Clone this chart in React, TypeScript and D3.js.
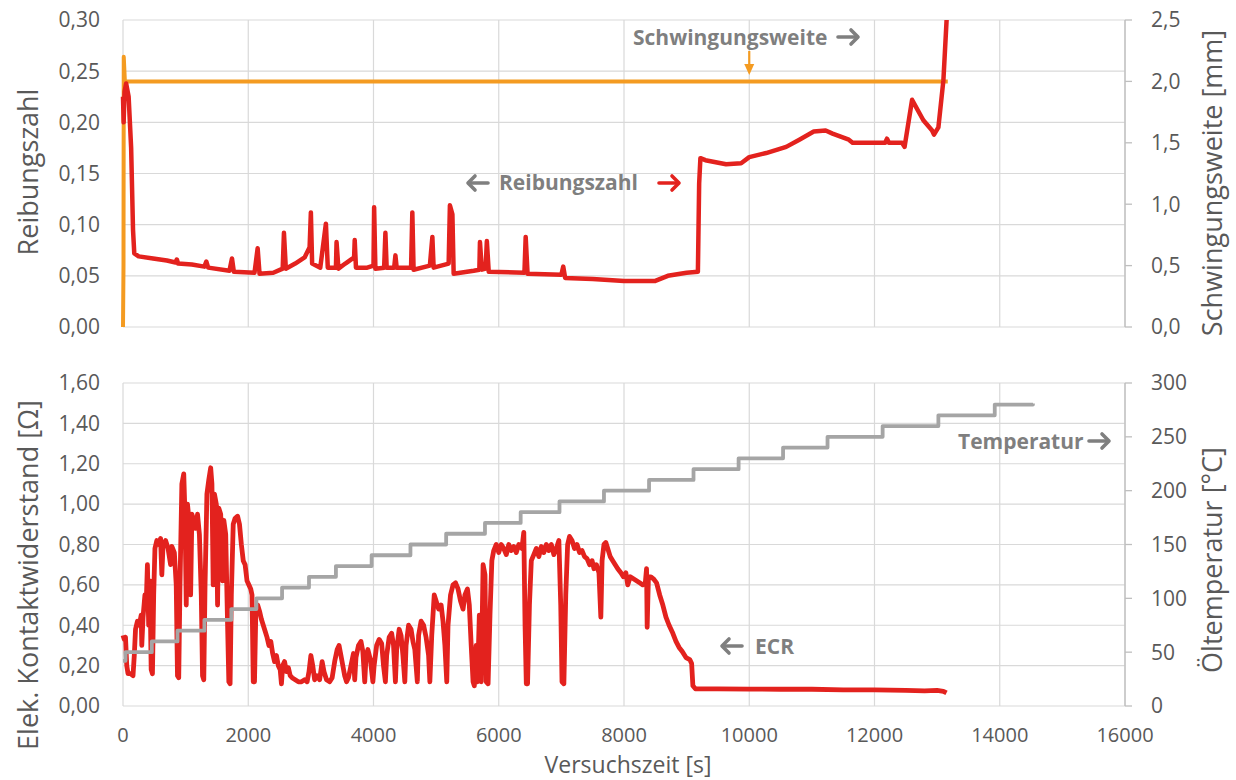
import React from "react";
import * as d3 from "d3";

// Reibungszahl (oben, linke Achse) – [Zeit s, µ]
const frictionData: [number, number][] = [
  [0, 0.225], [10, 0.2], [25, 0.23], [50, 0.238], [90, 0.225], [130, 0.175], [160, 0.095],
  [180, 0.072], [250, 0.069], [480, 0.067], [700, 0.065], [840, 0.063], [860, 0.066],
  [880, 0.062], [1100, 0.061], [1300, 0.059], [1330, 0.064], [1360, 0.058], [1700, 0.055],
  [1740, 0.067], [1770, 0.054], [2100, 0.053], [2150, 0.077], [2180, 0.052], [2400, 0.053],
  [2550, 0.057], [2570, 0.092], [2600, 0.057], [2750, 0.062], [2900, 0.068], [2980, 0.078],
  [3000, 0.112], [3020, 0.062], [3150, 0.058], [3240, 0.101], [3270, 0.058], [3400, 0.058],
  [3410, 0.083], [3440, 0.057], [3550, 0.062], [3690, 0.068], [3700, 0.085], [3720, 0.058],
  [3900, 0.058], [4000, 0.06], [4010, 0.117], [4030, 0.057], [4170, 0.058], [4190, 0.092],
  [4210, 0.058], [4330, 0.058], [4350, 0.07], [4370, 0.058], [4600, 0.058], [4620, 0.112],
  [4640, 0.056], [4900, 0.06], [4940, 0.088], [4960, 0.058], [5200, 0.062], [5220, 0.119],
  [5260, 0.11], [5280, 0.052], [5600, 0.055], [5690, 0.056], [5700, 0.083], [5730, 0.056],
  [5790, 0.057], [5810, 0.084], [5840, 0.054], [6410, 0.053], [6430, 0.088], [6460, 0.052],
  [7000, 0.051], [7030, 0.059], [7060, 0.048], [7500, 0.047], [8000, 0.045], [8500, 0.045],
  [8700, 0.05], [9000, 0.053], [9180, 0.054], [9200, 0.14], [9220, 0.165], [9300, 0.163],
  [9630, 0.159], [9870, 0.16], [10000, 0.166], [10270, 0.17], [10590, 0.176], [10800, 0.183],
  [11030, 0.191], [11220, 0.192], [11330, 0.189], [11590, 0.183], [11650, 0.18], [12170, 0.18],
  [12200, 0.184], [12230, 0.18], [12440, 0.18], [12480, 0.176], [12600, 0.222], [12780, 0.202],
  [12920, 0.192], [12950, 0.188], [13020, 0.195], [13100, 0.241], [13160, 0.31],
];

// Schwingungsweite (oben, rechte Achse) – [Zeit s, mm]
const amplitudeData: [number, number][] = [
  [0, 0], [8, 0.5], [12, 2.2], [30, 2.0], [13170, 2.0],
];

// Elektrischer Kontaktwiderstand (unten, linke Achse) – [Zeit s, Ohm]
const ecrData: [number, number][] = [
  [0, 0.35], [20, 0.33], [40, 0.34], [60, 0.2], [80, 0.16], [120, 0.16], [160, 0.15],
  [180, 0.25], [200, 0.38], [230, 0.42], [260, 0.4], [290, 0.45], [300, 0.3], [320, 0.44],
  [350, 0.55], [370, 0.5], [390, 0.7], [410, 0.4], [430, 0.62], [450, 0.18], [470, 0.16],
  [490, 0.55], [510, 0.78], [540, 0.82], [570, 0.8], [600, 0.83], [620, 0.65], [640, 0.8],
  [680, 0.82], [720, 0.78], [760, 0.7], [780, 0.79], [820, 0.76], [850, 0.6], [870, 0.15],
  [890, 0.14], [910, 0.6], [940, 1.1], [970, 1.15], [990, 0.95], [1010, 0.5], [1030, 1.0],
  [1060, 0.9], [1080, 0.55], [1100, 0.95], [1130, 0.92], [1160, 0.88], [1190, 0.95],
  [1220, 0.85], [1250, 0.55], [1270, 0.15], [1290, 0.13], [1310, 0.6], [1340, 1.05],
  [1370, 1.12], [1400, 1.18], [1420, 1.1], [1440, 0.6], [1460, 1.05], [1490, 1.0], [1510, 0.5],
  [1530, 0.98], [1560, 0.95], [1590, 0.62], [1610, 0.92], [1640, 0.85], [1670, 0.4],
  [1690, 0.12], [1710, 0.11], [1730, 0.55], [1760, 0.9], [1790, 0.93], [1830, 0.94],
  [1860, 0.9], [1890, 0.8], [1920, 0.72], [1950, 0.7], [1980, 0.62], [2010, 0.6], [2040, 0.58],
  [2060, 0.55], [2080, 0.12], [2100, 0.12], [2120, 0.45], [2150, 0.5], [2180, 0.47],
  [2210, 0.43], [2240, 0.4], [2270, 0.37], [2300, 0.34], [2330, 0.3], [2360, 0.32],
  [2390, 0.26], [2420, 0.22], [2450, 0.25], [2480, 0.2], [2510, 0.18], [2530, 0.11],
  [2550, 0.2], [2580, 0.22], [2610, 0.17], [2640, 0.19], [2670, 0.15], [2700, 0.14],
  [2750, 0.13], [2800, 0.12], [2850, 0.12], [2900, 0.13], [2940, 0.12], [2970, 0.17],
  [3000, 0.25], [3030, 0.2], [3060, 0.13], [3100, 0.15], [3140, 0.13], [3180, 0.22],
  [3210, 0.17], [3250, 0.13], [3300, 0.12], [3340, 0.14], [3380, 0.22], [3420, 0.28],
  [3450, 0.3], [3480, 0.25], [3510, 0.2], [3540, 0.15], [3570, 0.12], [3600, 0.14],
  [3640, 0.2], [3680, 0.26], [3700, 0.13], [3720, 0.24], [3760, 0.3], [3800, 0.32],
  [3830, 0.27], [3860, 0.12], [3880, 0.24], [3910, 0.28], [3950, 0.23], [3990, 0.12],
  [4010, 0.2], [4050, 0.3], [4090, 0.33], [4130, 0.31], [4160, 0.2], [4190, 0.12],
  [4210, 0.25], [4250, 0.34], [4290, 0.36], [4320, 0.3], [4350, 0.12], [4370, 0.28],
  [4410, 0.38], [4440, 0.35], [4470, 0.25], [4500, 0.12], [4520, 0.3], [4560, 0.4],
  [4600, 0.38], [4630, 0.32], [4660, 0.28], [4700, 0.12], [4720, 0.35], [4760, 0.42],
  [4800, 0.4], [4840, 0.34], [4880, 0.25], [4900, 0.12], [4930, 0.35], [4970, 0.55],
  [5000, 0.52], [5040, 0.48], [5080, 0.5], [5110, 0.42], [5140, 0.3], [5170, 0.12],
  [5190, 0.4], [5230, 0.55], [5270, 0.6], [5310, 0.61], [5350, 0.58], [5390, 0.52],
  [5430, 0.48], [5460, 0.55], [5500, 0.58], [5530, 0.5], [5560, 0.3], [5590, 0.12],
  [5610, 0.1], [5640, 0.3], [5660, 0.12], [5690, 0.45], [5720, 0.12], [5750, 0.7],
  [5780, 0.65], [5800, 0.12], [5830, 0.11], [5860, 0.45], [5890, 0.72], [5920, 0.77],
  [5960, 0.8], [6000, 0.76], [6040, 0.8], [6080, 0.78], [6120, 0.75], [6160, 0.8],
  [6200, 0.77], [6240, 0.79], [6280, 0.76], [6320, 0.8], [6370, 0.78], [6400, 0.86],
  [6420, 0.4], [6440, 0.11], [6460, 0.11], [6490, 0.5], [6520, 0.72], [6560, 0.75],
  [6600, 0.78], [6640, 0.74], [6680, 0.79], [6720, 0.76], [6760, 0.8], [6800, 0.77],
  [6840, 0.8], [6880, 0.75], [6920, 0.78], [6960, 0.82], [6990, 0.5], [7010, 0.12],
  [7040, 0.11], [7070, 0.55], [7100, 0.8], [7130, 0.84], [7170, 0.82], [7210, 0.78],
  [7250, 0.8], [7290, 0.76], [7330, 0.77], [7370, 0.74], [7410, 0.73], [7450, 0.7],
  [7490, 0.72], [7520, 0.68], [7560, 0.7], [7600, 0.66], [7630, 0.44], [7650, 0.72],
  [7680, 0.8], [7710, 0.81], [7740, 0.78], [7780, 0.74], [7820, 0.72], [7860, 0.7],
  [7900, 0.68], [7950, 0.66], [7990, 0.64], [8030, 0.66], [8060, 0.6], [8100, 0.64],
  [8150, 0.63], [8200, 0.62], [8250, 0.61], [8300, 0.6], [8340, 0.61], [8360, 0.68],
  [8370, 0.39], [8390, 0.64], [8430, 0.64], [8470, 0.63], [8520, 0.61], [8570, 0.55],
  [8620, 0.5], [8670, 0.44], [8720, 0.4], [8780, 0.36], [8830, 0.32], [8880, 0.29],
  [8930, 0.27], [8990, 0.24], [9050, 0.23], [9080, 0.21], [9100, 0.1], [9140, 0.085],
  [9500, 0.085], [10000, 0.084], [10500, 0.083], [11000, 0.083], [11500, 0.08],
  [12000, 0.08], [12500, 0.077], [12800, 0.075], [13000, 0.077], [13100, 0.073], [13150, 0.065],
];

// Öltemperatur (unten, rechte Achse) – Stufen [Zeit s, °C]
const temperatureData: [number, number][] = [
  [0, 42], [40, 50], [460, 60], [870, 70], [1300, 80], [1730, 90], [2130, 100], [2540, 110],
  [2970, 120], [3400, 130], [3970, 140], [4590, 150], [5160, 160], [5780, 170], [6350, 180],
  [6970, 190], [7680, 200], [8400, 210], [9110, 220], [9830, 230], [10540, 240], [11250, 250],
  [12130, 260], [13020, 270], [13920, 280], [14530, 281],
];

const xTicks = [0, 2000, 4000, 6000, 8000, 10000, 12000, 14000, 16000];
const frictionTicks = [0, 0.05, 0.1, 0.15, 0.2, 0.25, 0.3];
const amplitudeTicks = [0, 0.5, 1, 1.5, 2, 2.5];
const ecrTicks = [0, 0.2, 0.4, 0.6, 0.8, 1.0, 1.2, 1.4, 1.6];
const temperatureTicks = [0, 50, 100, 150, 200, 250, 300];

const RED = "#e3221e";
const ORANGE = "#f49b21";
const GREY_LINE = "#a5a5a5";
const GRID = "#d9d9d9";
const TICK_TEXT = "#595959";
const NOTE_TEXT = "#7f7f7f";
const FONT = "'Open Sans', 'Noto Sans', sans-serif";

const de = d3.formatLocale({ decimal: ",", thousands: ".", grouping: [3], currency: ["", " €"] });
const fmt2 = de.format(".2f");
const fmt1 = de.format(".1f");
const fmt0 = d3.format("d");

// kräftiger Pfeil wie in der Vorlage
function Arrow({ x, y, dir, color }: { x: number; y: number; dir: 1 | -1; color: string }) {
  const len = 20;
  const x0 = dir === 1 ? x : x + len;
  const x1 = dir === 1 ? x + len : x;
  const h = 7 * dir;
  return (
    <g stroke={color} strokeWidth={3.6} strokeLinecap="round" strokeLinejoin="round" fill="none">
      <line x1={x0} y1={y} x2={x1 - dir * 1} y2={y} />
      <polyline points={`${x1 - h},${y - 7} ${x1},${y} ${x1 - h},${y + 7}`} />
    </g>
  );
}

export default function App() {
  const width = 1236;
  const height = 780;
  const left = 123;
  const right = 1125;

  const x = d3.scaleLinear().domain([0, 16000]).range([left, right]);

  const topY = d3.scaleLinear().domain([0, 0.3]).range([327, 20]);
  const topY2 = d3.scaleLinear().domain([0, 2.5]).range([327, 20]);
  const botY = d3.scaleLinear().domain([0, 1.6]).range([706, 383]);
  const botY2 = d3.scaleLinear().domain([0, 300]).range([706, 383]);

  const frictionLine = d3.line<[number, number]>().x(d => x(d[0])).y(d => topY(d[1]));
  const amplitudeLine = d3.line<[number, number]>().x(d => x(d[0])).y(d => topY2(d[1]));
  const ecrLine = d3.line<[number, number]>().x(d => x(d[0])).y(d => botY(d[1]));
  const tempLine = d3.line<[number, number]>()
    .x(d => x(d[0])).y(d => botY2(d[1])).curve(d3.curveStepAfter);

  const panel = (
    y: d3.ScaleLinear<number, number>,
    y2: d3.ScaleLinear<number, number>,
    ticks: number[],
    ticks2: number[],
    fmtL: (n: number) => string,
    fmtR: (n: number) => string,
    key: string
  ) => {
    const [y0, y1] = y.range();
    return (
      <g key={key}>
        {ticks.map(t => (
          <line key={"h" + t} x1={left} x2={right} y1={y(t)} y2={y(t)} stroke={GRID} strokeWidth={1.2} />
        ))}
        {xTicks.map(t => (
          <line key={"v" + t} x1={x(t)} x2={x(t)} y1={y0} y2={y1} stroke={GRID} strokeWidth={1.2} />
        ))}
        <line x1={right} x2={right} y1={y0} y2={y1} stroke="#bfbfbf" strokeWidth={1.3} />
        {ticks2.map(t => (
          <line key={"rt" + t} x1={right} x2={right + 7} y1={y2(t)} y2={y2(t)} stroke="#bfbfbf" strokeWidth={1.3} />
        ))}
        {ticks.map(t => (
          <text key={"lt" + t} x={100} y={y(t)} dy="0.35em" textAnchor="end"
            fontFamily={FONT} fontSize={21} fill={TICK_TEXT}>{fmtL(t)}</text>
        ))}
        {ticks2.map(t => (
          <text key={"rl" + t} x={1151} y={y2(t)} dy="0.35em" textAnchor="start"
            fontFamily={FONT} fontSize={21} fill={TICK_TEXT}>{fmtR(t)}</text>
        ))}
      </g>
    );
  };

  return (
    <svg width={width} height={height} style={{ position: "absolute", left: 0, top: 0, background: "#fff" }}>
      <defs>
        <clipPath id="topClip">
          <rect x={left - 4} y={20} width={right - left + 8} height={311} />
        </clipPath>
        <clipPath id="botClip">
          <rect x={left - 4} y={380} width={right - left + 8} height={330} />
        </clipPath>
      </defs>
      <rect x={0} y={0} width={width} height={height} fill="#fff" />

      {panel(topY, topY2, frictionTicks, amplitudeTicks, fmt2, fmt1, "top")}
      {panel(botY, botY2, ecrTicks, temperatureTicks, fmt2, fmt0, "bot")}

      {/* x axis labels */}
      {xTicks.map(t => (
        <text key={"xl" + t} x={x(t)} y={742} textAnchor="middle"
          fontFamily={FONT} fontSize={20} fill={TICK_TEXT}>{fmt0(t)}</text>
      ))}

      {/* series */}
      <g clipPath="url(#topClip)">
        <path d={amplitudeLine(amplitudeData) || ""} fill="none" stroke={ORANGE} strokeWidth={4} strokeLinejoin="round" />
        <path d={frictionLine(frictionData) || ""} fill="none" stroke={RED} strokeWidth={4.5} strokeLinejoin="round" />
      </g>
      <g clipPath="url(#botClip)">
        <path d={ecrLine(ecrData) || ""} fill="none" stroke={RED} strokeWidth={4.8} strokeLinejoin="round" />
        <path d={tempLine(temperatureData) || ""} fill="none" stroke={GREY_LINE} strokeWidth={3.8} strokeLinejoin="round" />
      </g>

      {/* axis titles */}
      <text transform="translate(29,172) rotate(-90)" textAnchor="middle" dy="0.35em"
        fontFamily={FONT} fontSize={27} fill={TICK_TEXT}>Reibungszahl</text>
      <text transform="translate(1213,183) rotate(-90)" textAnchor="middle" dy="0.35em"
        fontFamily={FONT} fontSize={27} fill={TICK_TEXT}>Schwingungsweite [mm]</text>
      <text transform="translate(29,575) rotate(-90)" textAnchor="middle" dy="0.35em"
        fontFamily={FONT} fontSize={27} fill={TICK_TEXT}>Elek. Kontaktwiderstand [Ω]</text>
      <text transform="translate(1213,560) rotate(-90)" textAnchor="middle" dy="0.35em"
        fontFamily={FONT} fontSize={27} fill={TICK_TEXT}>Öltemperatur [°C]</text>
      <text x={628} y={773} textAnchor="middle"
        fontFamily={FONT} fontSize={23} fill={TICK_TEXT}>Versuchszeit [s]</text>

      {/* annotations */}
      <text x={633} y={38} dy="0.35em" fontFamily={FONT} fontWeight="bold" fontSize={21} fill={NOTE_TEXT}>Schwingungsweite</text>
      <Arrow x={838} y={37} dir={1} color={NOTE_TEXT} />
      <line x1={x(10000)} x2={x(10000)} y1={51} y2={66} stroke={ORANGE} strokeWidth={2.2} />
      <path d={`M${x(10000) - 5},64 L${x(10000) + 5},64 L${x(10000)},75 Z`} fill={ORANGE} />

      <Arrow x={468} y={183} dir={-1} color={NOTE_TEXT} />
      <text x={499} y={183} dy="0.35em" fontFamily={FONT} fontWeight="bold" fontSize={21} fill={NOTE_TEXT}>Reibungszahl</text>
      <Arrow x={659} y={183} dir={1} color={RED} />

      <text x={958} y={442} dy="0.35em" fontFamily={FONT} fontWeight="bold" fontSize={21} fill={NOTE_TEXT}>Temperatur</text>
      <Arrow x={1089} y={441} dir={1} color={NOTE_TEXT} />

      <Arrow x={722} y={646} dir={-1} color={NOTE_TEXT} />
      <text x={755} y={647} dy="0.35em" fontFamily={FONT} fontWeight="bold" fontSize={21} fill={NOTE_TEXT}>ECR</text>
    </svg>
  );
}
